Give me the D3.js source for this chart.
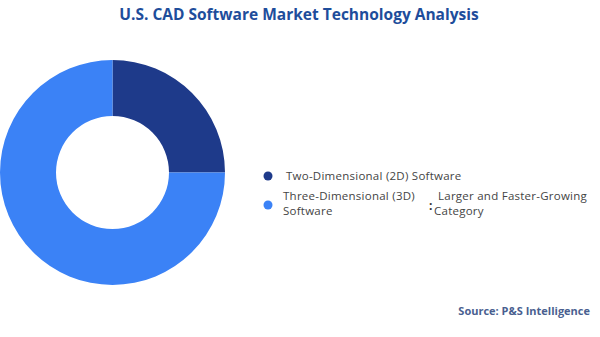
<!DOCTYPE html>
<html>
<head>
<meta charset="utf-8">
<script src="https://cdn.jsdelivr.net/npm/d3@7"></script>
<style>
  body { margin: 0; background: #fff; }
  svg { display: block; font-family: "Open Sans", Roboto, sans-serif; }
</style>
</head>
<body>
<svg id="chart" width="600" height="337"></svg>
<script>
const CATEGORIES = ['Two-Dimensional (2D) Software', 'Three-Dimensional (3D) Software'];
const SHARES = [25, 75];
const COLORS = ['#1e3a8a', '#3b82f6'];
const NOTE = 'Larger and Faster-Growing Category';

const W = 600, H = 337;
const CX = 112.5, CY = 172.5, R_OUT = 112.5, R_IN = 56.5;

const svg = d3.select('#chart');

// title
svg.append('text')
    .attr('x', 299).attr('y', 20)
    .attr('text-anchor', 'middle')
    .style('font-size', '15.5px').style('font-weight', 'bold')
    .style('fill', '#1e4d9b')
    .text('U.S. CAD Software Market Technology Analysis');

// donut
const data = CATEGORIES.map((c, i) => ({ name: c, value: SHARES[i], color: COLORS[i] }));
const pie = d3.pie().value(d => d.value).sort(null);
const arc = d3.arc().innerRadius(R_IN).outerRadius(R_OUT);

svg.append('g')
    .attr('transform', `translate(${CX},${CY})`)
    .selectAll('path')
    .data(pie(data))
    .enter()
    .append('path')
        .attr('d', arc)
        .style('fill', d => d.data.color);

// legend
const legend = svg.append('g')
    .style('font-size', '11.5px')
    .style('letter-spacing', '0.25px')
    .style('fill', '#444');
const rowY = [176, 205];

legend.selectAll('circle')
    .data(data)
    .enter()
    .append('circle')
        .attr('cx', 268)
        .attr('cy', (d, i) => rowY[i])
        .attr('r', 4.5)
        .style('fill', d => d.color);

legend.append('text')
    .attr('x', 286).attr('y', rowY[0] + 4)
    .text(CATEGORIES[0]);

const t2 = legend.append('text')
    .attr('x', 283).attr('y', 200);
t2.append('tspan').attr('x', 283).text('Three-Dimensional (3D)');
t2.append('tspan').attr('x', 283).attr('dy', 15).text('Software');

legend.append('text')
    .attr('x', 429).attr('y', 210)
    .style('font-size', '12px').style('font-weight', 'bold').style('fill', '#333')
    .text(':');

const t3 = legend.append('text')
    .attr('x', 438).attr('y', 200);
t3.append('tspan').attr('x', 438).text('Larger and Faster-Growing');
t3.append('tspan').attr('x', 434).attr('dy', 15).text('Category');

// source
svg.append('text')
    .attr('x', 590).attr('y', 315)
    .attr('text-anchor', 'end')
    .style('font-size', '11px').style('font-weight', 'bold')
    .style('fill', '#4a5f90')
    .text('Source: P&S Intelligence');
</script>
</body>
</html>
